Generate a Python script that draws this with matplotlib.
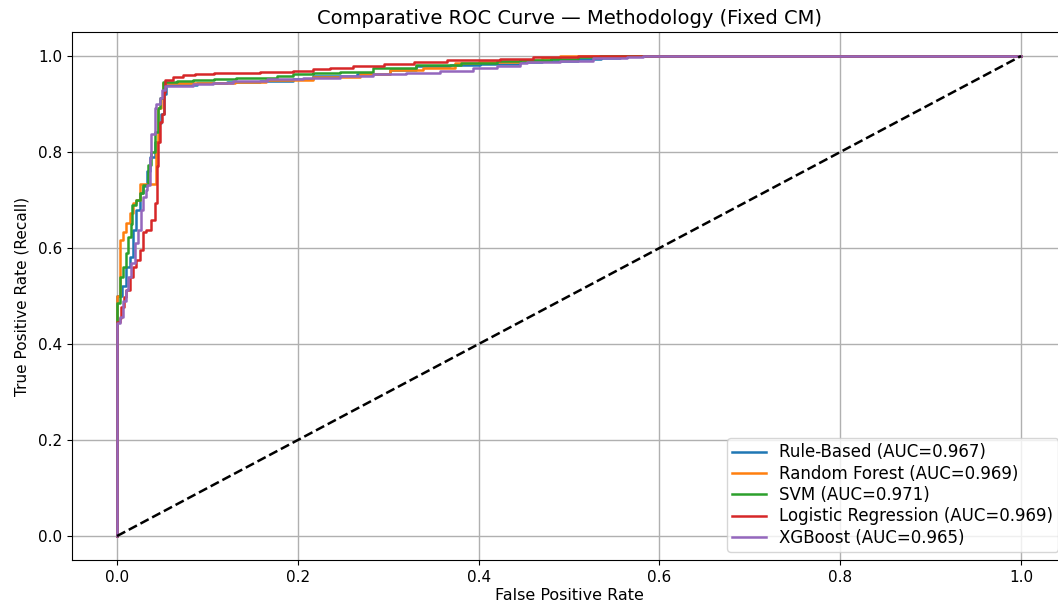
import matplotlib
matplotlib.use('Agg')
import matplotlib.pyplot as plt

plt.rcParams['font.family'] = ['DejaVu Sans']

# ROC 拐点 (fpr, tpr)，按 steps-post 绘制
fpr_rule = [0, 0, 0.005, 0.0103, 0.014, 0.0177, 0.021, 0.025, 0.029, 0.033, 0.037, 0.042,
            0.046, 0.049, 0.052, 0.054, 0.088, 0.1215, 0.158, 0.195, 0.217, 0.265, 0.302,
            0.331, 0.368, 0.401, 0.446, 0.47, 0.51, 0.535, 0.556, 1.0]
tpr_rule = [0, 0.50, 0.52, 0.561, 0.582, 0.637, 0.679, 0.714, 0.73, 0.76, 0.79, 0.82,
            0.86, 0.88, 0.92, 0.94, 0.944, 0.946, 0.949, 0.952, 0.959, 0.963, 0.970,
            0.980, 0.982, 0.984, 0.988, 0.990, 0.993, 0.996, 1.0, 1.0]

fpr_rf = [0, 0, 0.003, 0.0066, 0.0103, 0.014, 0.0177, 0.021, 0.0251, 0.0435, 0.0453, 0.049,
          0.051, 0.13, 0.165, 0.217, 0.269, 0.302, 0.339, 0.374, 0.40, 0.446, 0.47, 0.49, 1.0]
tpr_rf = [0, 0.50, 0.617, 0.634, 0.652, 0.672, 0.693, 0.70, 0.733, 0.821, 0.891, 0.912,
          0.943, 0.946, 0.951, 0.957, 0.962, 0.971, 0.976, 0.985, 0.988, 0.992, 0.996, 1.0, 1.0]

fpr_svm = [0, 0, 0.003, 0.0066, 0.0103, 0.012, 0.0158, 0.0165, 0.021, 0.025, 0.0284, 0.0343,
           0.038, 0.0416, 0.0453, 0.048, 0.051, 0.066, 0.084, 0.107, 0.132, 0.177, 0.195,
           0.217, 0.247, 0.2835, 0.331, 0.38, 0.42, 0.446, 0.48, 0.51, 0.534, 1.0]
tpr_svm = [0, 0.485, 0.54, 0.561, 0.59, 0.624, 0.65, 0.69, 0.70, 0.714, 0.731, 0.773,
           0.80, 0.842, 0.891, 0.912, 0.946, 0.948, 0.951, 0.953, 0.955, 0.959, 0.962,
           0.965, 0.967, 0.975, 0.982, 0.986, 0.990, 0.992, 0.994, 0.997, 1.0, 1.0]

fpr_lr = [0, 0, 0.003, 0.0048, 0.0077, 0.0103, 0.014, 0.0177, 0.021, 0.025, 0.029, 0.032,
          0.038, 0.0417, 0.0446, 0.0453, 0.0472, 0.0498, 0.052, 0.0535, 0.0623, 0.0734,
          0.086, 0.107, 0.158, 0.195, 0.217, 0.236, 0.261, 0.295, 0.328, 0.365, 0.424,
          0.46, 0.49, 0.51, 1.0]
tpr_lr = [0, 0.446, 0.455, 0.478, 0.499, 0.5125, 0.54, 0.561, 0.575, 0.595, 0.634, 0.637,
          0.658, 0.693, 0.77, 0.821, 0.862, 0.88, 0.925, 0.951, 0.956, 0.960,
          0.962, 0.964, 0.966, 0.969, 0.973, 0.976, 0.979, 0.984, 0.988, 0.991, 0.994,
          0.997, 0.999, 1.0, 1.0]

fpr_xgb = [0, 0, 0.003, 0.0066, 0.0103, 0.012, 0.0158, 0.0195, 0.0232, 0.027, 0.029, 0.032,
           0.0336, 0.0361, 0.0372, 0.0416, 0.0435, 0.0472, 0.0498, 0.0527, 0.0844, 0.1066,
           0.1287, 0.1655, 0.206, 0.247, 0.2835, 0.320, 0.357, 0.394, 0.42, 0.446, 0.453,
           0.49, 0.527, 0.564, 0.582, 1.0]
tpr_xgb = [0, 0.443, 0.457, 0.49, 0.5125, 0.54, 0.568, 0.61, 0.637, 0.679, 0.707, 0.72,
           0.731, 0.787, 0.838, 0.891, 0.901, 0.912, 0.930, 0.937, 0.942, 0.944,
           0.947, 0.953, 0.955, 0.959, 0.962, 0.965, 0.969, 0.976, 0.979, 0.985, 0.987,
           0.990, 0.995, 0.998, 1.0, 1.0]

models = ['Rule-Based', 'Random Forest', 'SVM', 'Logistic Regression', 'XGBoost']
aucs = [0.967, 0.969, 0.971, 0.969, 0.965]
curves = [(fpr_rule, tpr_rule), (fpr_rf, tpr_rf), (fpr_svm, tpr_svm),
          (fpr_lr, tpr_lr), (fpr_xgb, tpr_xgb)]
colors = ['#1f77b4', '#ff7f0e', '#2ca02c', '#d62728', '#9467bd']

fig = plt.figure(figsize=(10.58, 6.07), dpi=100)
ax = fig.add_axes([0.0679, 0.0774, 0.9399, 0.8698])

for name, auc, (fpr, tpr), c in zip(models, aucs, curves, colors):
    ax.plot(fpr, tpr, drawstyle='steps-post', color=c, lw=1.8,
            label=f'{name} (AUC={auc:.3f})')

ax.plot([0, 1], [0, 1], 'k--', lw=1.8)

ax.set_xlim(-0.05, 1.05)
ax.set_ylim(-0.05, 1.05)
ax.set_xticks([0, 0.2, 0.4, 0.6, 0.8, 1.0])
ax.set_yticks([0, 0.2, 0.4, 0.6, 0.8, 1.0])
ax.tick_params(labelsize=11)
ax.grid(True, color='#b0b0b0', lw=1)
ax.set_axisbelow(True)
ax.set_xlabel('False Positive Rate', fontsize=11.5, labelpad=2)
ax.set_ylabel('True Positive Rate (Recall)', fontsize=11, labelpad=6)
ax.set_title('Comparative ROC Curve — Methodology (Fixed CM)', fontsize=14, pad=6)
ax.legend(loc='lower right', fontsize=12, labelspacing=0.2, borderpad=0.3)

plt.savefig('out.png', dpi=100)
plt.close()
